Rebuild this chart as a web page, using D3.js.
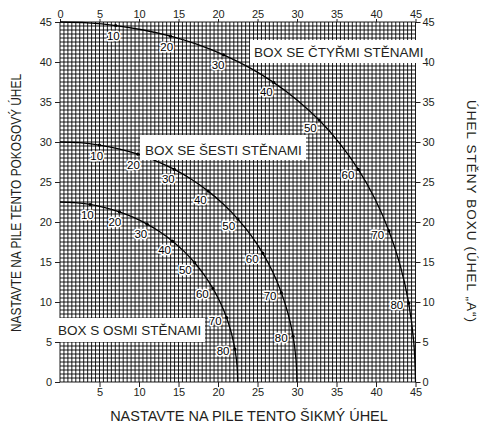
<!DOCTYPE html>
<html>
<head>
<meta charset="utf-8">
<script src="https://cdn.jsdelivr.net/npm/d3@7"></script>
<style>
  html, body { margin: 0; padding: 0; background: #fff; }
  svg { display: block; font-family: "Liberation Sans", Arial, sans-serif; }
</style>
</head>
<body>
<svg id="chart" width="483" height="424"></svg>
<script>
// ---- data ----
const axisTicks = [0, 5, 10, 15, 20, 25, 30, 35, 40, 45];
const bottomTicks = [5, 10, 15, 20, 25, 30, 35, 40, 45];
const wallAngles = [0, 5, 10, 15, 20, 25, 30, 35, 40, 45, 50, 55, 60, 65, 70, 75, 80, 85, 90];
const labelAngles = [10, 20, 30, 40, 50, 60, 70, 80];

// 4-sided box: bevel (x) and miter (y) for each wall angle
const bevel4 = [0, 3.53, 7.05, 10.55, 13.99, 17.39, 20.70, 23.93, 27.03, 30.00, 32.80, 35.40, 37.76, 39.86, 41.64, 43.08, 44.14, 44.78, 45];
const miter4 = [45, 44.89, 44.56, 44.00, 43.22, 42.19, 40.89, 39.32, 37.45, 35.26, 32.74, 29.84, 26.57, 22.91, 18.88, 14.51, 9.85, 4.98, 0];
// 6-sided box
const bevel6 = [0, 2.50, 4.98, 7.43, 9.85, 12.20, 14.48, 16.67, 18.75, 20.70, 22.52, 24.18, 25.66, 26.95, 28.02, 28.88, 29.50, 29.87, 30];
const miter6 = [30, 29.91, 29.62, 29.15, 28.48, 27.62, 26.57, 25.31, 23.86, 22.21, 20.36, 18.32, 16.10, 13.71, 11.17, 8.50, 5.73, 2.88, 0];
// 8-sided box
const bevel8 = [0, 1.91, 3.81, 5.68, 7.52, 9.31, 11.03, 12.68, 14.24, 15.70, 17.05, 18.27, 19.35, 20.29, 21.08, 21.69, 22.14, 22.41, 22.5];
const miter8 = [22.5, 22.42, 22.19, 21.81, 21.27, 20.57, 19.73, 18.74, 17.60, 16.33, 14.91, 13.36, 11.70, 9.93, 8.06, 6.12, 4.11, 2.07, 0];

const boxNames = ["BOX SE ČTYŘMI STĚNAMI", "BOX SE ŠESTI STĚNAMI", "BOX S OSMI STĚNAMI"];
const xTitle = "NASTAVTE NA PILE TENTO ŠIKMÝ ÚHEL";
const yTitle = "NASTAVTE NA PILE TENTO POKOSOVÝ ÚHEL";
const y2Title = "ÚHEL STĚNY BOXU (ÚHEL „A“)";

// ---- drawing ----
const svg = d3.select("#chart");
const ink = "#231f20";
const x = d3.scaleLinear().domain([0, 45]).range([60, 415.5]);
const y = d3.scaleLinear().domain([0, 45]).range([382, 22]);

// grid every 0.5
const gridVals = d3.range(0, 45.001, 0.5);
const grid = svg.append("g");
grid.selectAll("line.v").data(gridVals).join("line")
  .attr("x1", d => x(d)).attr("x2", d => x(d))
  .attr("y1", y(0)).attr("y2", y(45))
  .attr("stroke", "#000").attr("stroke-width", 0.9);
grid.selectAll("line.h").data(gridVals).join("line")
  .attr("y1", d => y(d)).attr("y2", d => y(d))
  .attr("x1", x(0)).attr("x2", x(45))
  .attr("stroke", "#000").attr("stroke-width", 0.9);

// axes
function styleAxis(g) {
  g.select(".domain").remove();
  g.selectAll(".tick line").attr("stroke", ink);
  g.selectAll(".tick text").attr("fill", ink).style("font-size", "11px")
    .style("font-family", "Liberation Sans, Arial, sans-serif");
}
svg.append("g").attr("transform", `translate(${x(0)},0)`)
  .call(d3.axisLeft(y).tickValues(axisTicks).tickSize(5).tickPadding(3)).call(styleAxis);
svg.append("g").attr("transform", `translate(${x(45)},0)`)
  .call(d3.axisRight(y).tickValues(axisTicks).tickSize(5).tickPadding(2)).call(styleAxis);
svg.append("g").attr("transform", `translate(0,${y(0)})`)
  .call(d3.axisBottom(x).tickValues(bottomTicks).tickSize(5).tickPadding(1)).call(styleAxis);
svg.append("g").attr("transform", `translate(0,${y(45)})`)
  .call(d3.axisTop(x).tickValues(axisTicks).tickSize(3).tickPadding(1)).call(styleAxis);

// curves
const series = [
  { bevel: bevel4, miter: miter4 },
  { bevel: bevel6, miter: miter6 },
  { bevel: bevel8, miter: miter8 }
];
const line = d3.line().x(d => x(d[0])).y(d => y(d[1])).curve(d3.curveCatmullRom.alpha(0.5));
const labelLayer = svg.append("g");
series.forEach(s => {
  const pts = wallAngles.map((a, i) => [s.bevel[i], s.miter[i]]);
  svg.append("path").datum(pts).attr("d", line)
    .attr("fill", "none").attr("stroke", "#000").attr("stroke-width", 1.3);
  labelAngles.forEach(a => {
    const i = wallAngles.indexOf(a);
    const px = x(s.bevel[i]), py = y(s.miter[i]);
    const tx = x(s.bevel[i + 1]) - x(s.bevel[i - 1]);
    const ty = y(s.miter[i + 1]) - y(s.miter[i - 1]);
    const len = Math.hypot(tx, ty);
    const nx = -ty / len, ny = tx / len;
    const off = 11;
    svg.append("circle").attr("cx", px).attr("cy", py).attr("r", 1.6).attr("fill", "#000");
    labelLayer.append("text")
      .attr("x", px + nx * off - 1).attr("y", py + ny * off)
      .attr("text-anchor", "middle").attr("dominant-baseline", "central")
      .attr("fill", "#000").attr("stroke", "#fff").attr("stroke-width", 3)
      .attr("paint-order", "stroke").attr("stroke-linejoin", "round")
      .style("font-size", "11.5px")
      .text(a);
  });
});
svg.node().appendChild(labelLayer.node());

// box name labels
const boxes = [
  { x0: 250, x1: 425, y0: 40, y1: 63, tx: 254, ty: 57 },
  { x0: 140, x1: 306, y0: 135, y1: 160, tx: 145, ty: 155 },
  { x0: 54, x1: 205, y0: 318, y1: 342, tx: 58, ty: 335 }
];
boxes.forEach((b, i) => {
  svg.append("rect").attr("x", b.x0).attr("y", b.y0)
    .attr("width", b.x1 - b.x0).attr("height", b.y1 - b.y0).attr("fill", "#fff");
  svg.append("text").attr("x", b.tx).attr("y", b.ty).attr("fill", ink)
    .style("font-size", "13.5px").text(boxNames[i]);
});

// titles
svg.append("text").attr("x", 249).attr("y", 421).attr("text-anchor", "middle")
  .attr("fill", ink).style("font-size", "14.5px").text(xTitle);
svg.append("text").attr("transform", "translate(21,203) rotate(-90)")
  .attr("text-anchor", "middle").attr("fill", ink).style("font-size", "14px")
  .attr("textLength", 258).attr("lengthAdjust", "spacingAndGlyphs").text(yTitle);
svg.append("text").attr("transform", "translate(467,211) rotate(90)")
  .attr("text-anchor", "middle").attr("fill", ink).style("font-size", "13.5px")
  .attr("textLength", 222).attr("lengthAdjust", "spacing").text(y2Title);
</script>
</body>
</html>
